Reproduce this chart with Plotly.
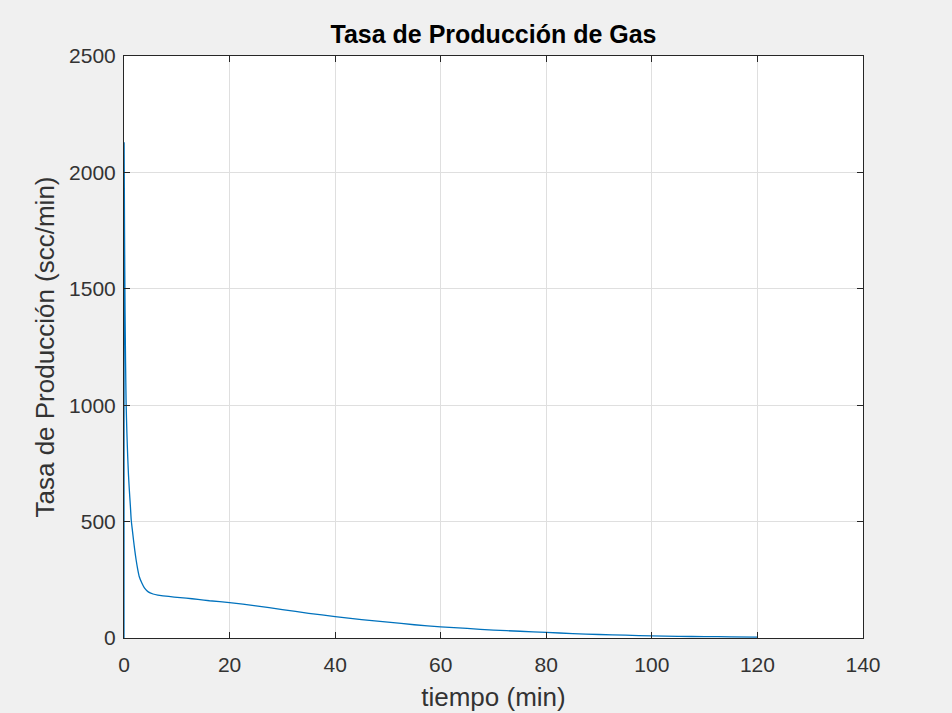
import plotly.graph_objects as go

# Data
tiempo_min = [0, 0.02, 0.1, 0.2, 0.3, 0.4, 0.55, 0.7, 0.85, 1.0, 1.2, 1.37, 1.6, 1.8,
              2.05, 2.3, 2.6, 2.9, 3.4, 3.9, 4.6, 5.5, 6.4, 7.4, 9.5, 11.8, 14,
              16.2, 20, 25, 30, 35, 40, 45, 50, 55, 60, 65, 70, 75, 80, 85,
              90, 95, 100, 105, 110, 115, 120]
tasa_scc_min = [0, 2130, 1750, 1400, 1180, 1010, 880, 780, 700, 640, 570, 507, 460, 421,
                375, 335, 295, 263, 235, 214, 198, 189, 184, 181, 176, 171, 166,
                160, 152, 138, 122, 106, 92, 79, 68, 57, 48, 41, 34, 29, 24, 19,
                15, 12, 9, 7, 6, 5, 4]

x_ticks = [0, 20, 40, 60, 80, 100, 120, 140]
y_ticks = [0, 500, 1000, 1500, 2000, 2500]

FONT = "Liberation Sans, Arial, sans-serif"
AX = "#262626"
TXT = "#333333"

fig = go.Figure()
fig.add_trace(go.Scatter(
    x=tiempo_min, y=tasa_scc_min, mode="lines",
    line=dict(color="#0072BD", width=1.3, shape="spline", smoothing=0.6), showlegend=False,
))

axis_common = dict(
    showline=True, linecolor=AX, linewidth=1, mirror="ticks",
    ticks="inside", ticklen=6, tickcolor=AX, tickwidth=1,
    showgrid=True, gridcolor="#dfdfdf", gridwidth=1,
    zeroline=False, automargin=False,
    tickfont=dict(family=FONT, size=21, color=TXT),
)

fig.update_layout(
    width=952, height=713,
    paper_bgcolor="#f0f0f0", plot_bgcolor="white",
    margin=dict(l=124, r=89, t=56, b=75),
    title=dict(text="<b>Tasa de Producción de Gas</b>",
               font=dict(family=FONT, size=25, color="#000000"),
               x=(124 + 863) / 2 / 952, xanchor="center",
               y=1 - 34 / 713, yanchor="middle"),
    xaxis=dict(range=[0, 140], tickvals=x_ticks, ticklabelstandoff=8,
               title=dict(text="tiempo (min)", font=dict(family=FONT, size=26, color=TXT), standoff=12),
               **axis_common),
    yaxis=dict(range=[0, 2500], tickvals=y_ticks, ticklabelstandoff=3,
               title=dict(text="Tasa de Producción (scc/min)", font=dict(family=FONT, size=26, color=TXT), standoff=6),
               **axis_common),
)

fig.write_html("out.html")
